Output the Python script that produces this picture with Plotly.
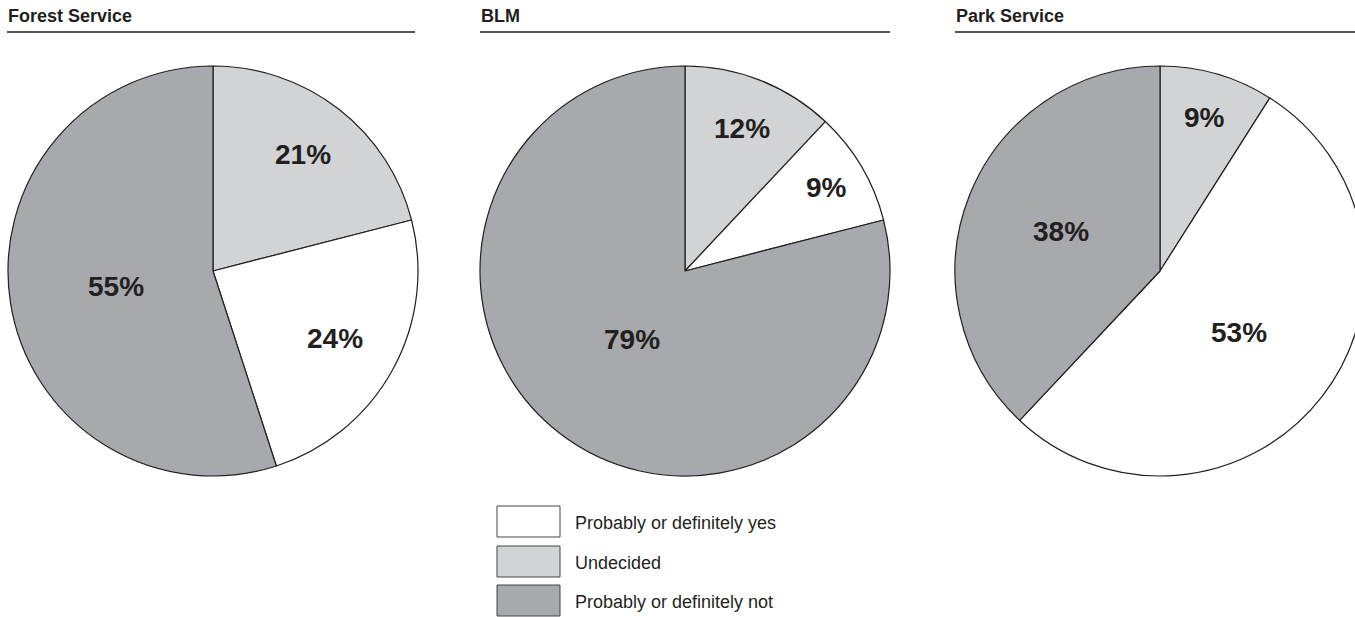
import math
import plotly.graph_objects as go

# ---- data ----
agencies = ["Forest Service", "BLM", "Park Service"]
categories = ["Undecided", "Probably or definitely yes", "Probably or definitely not"]
forest_values = [21, 24, 55]
blm_values = [12, 9, 79]
park_values = [9, 53, 38]
legend_order = ["Probably or definitely yes", "Undecided", "Probably or definitely not"]

# ---- style ----
colors = {
    "Undecided": "#d1d3d4",
    "Probably or definitely yes": "#ffffff",
    "Probably or definitely not": "#a7a9ac",
}
label_radius = [  # label distance from pie centre, as a fraction of radius
    [0.72, 0.68, 0.48],
    [0.75, 0.80, 0.42],
    [0.78, 0.49, 0.52],
]
TEXT = "#231f20"
FONT = "Liberation Sans, Arial, sans-serif"

W, H = 1365, 617
def px(x):
    return x / W
def py(y):
    return 1 - y / H

centers = [213, 685, 1160]
R = 205
CY = 271

fig = go.Figure()
annotations = []
for name, vals, cx, radii in zip(agencies, [forest_values, blm_values, park_values], centers, label_radius):
    fig.add_trace(go.Pie(
        labels=categories,
        values=vals,
        sort=False,
        direction="clockwise",
        rotation=0,
        marker=dict(colors=[colors[c] for c in categories], line=dict(color=TEXT, width=1.2)),
        textinfo="none",
        hoverinfo="label+percent",
        showlegend=False,
        domain=dict(x=[px(cx - R), min(1, px(cx + R))], y=[py(CY + R), py(CY - R)]),
        name=name,
    ))
    total = sum(vals)
    cum = 0
    for v, rf in zip(vals, radii):
        mid = (cum + v / 2) / total * 2 * math.pi
        cum += v
        lx = cx + rf * R * math.sin(mid)
        ly = CY - rf * R * math.cos(mid)
        annotations.append(dict(
            text="<b>%d%%</b>" % v, x=px(lx), y=py(ly), xref="paper", yref="paper",
            xanchor="center", yanchor="middle", showarrow=False,
            font=dict(family=FONT, size=28, color=TEXT),
        ))

shapes = []
panel_left = [7, 480, 955]
panel_right = [415, 890, 1355]
for name, l, r in zip(agencies, panel_left, panel_right):
    annotations.append(dict(
        text="<b>%s</b>" % name, x=px(l - 1), y=py(16), xref="paper", yref="paper",
        xanchor="left", yanchor="middle", showarrow=False,
        font=dict(family=FONT, size=18, color=TEXT),
    ))
    shapes.append(dict(type="line", xref="paper", yref="paper",
                       x0=px(l), x1=px(r), y0=py(32), y1=py(32),
                       line=dict(color="#555555", width=2)))

box_tops = [506, 546, 585]
for cat, top in zip(legend_order, box_tops):
    shapes.append(dict(type="rect", xref="paper", yref="paper",
                       x0=px(497), x1=px(560), y0=py(top + 31), y1=py(top),
                       fillcolor=colors[cat], line=dict(color="#444444", width=1)))
    annotations.append(dict(
        text=cat, x=px(573), y=py(top + 17), xref="paper", yref="paper",
        xanchor="left", yanchor="middle", showarrow=False,
        font=dict(family=FONT, size=18, color=TEXT),
    ))

fig.update_layout(
    width=W, height=H,
    margin=dict(l=0, r=0, t=0, b=0),
    paper_bgcolor="white", plot_bgcolor="white",
    shapes=shapes, annotations=annotations,
)

fig.write_html(
    "out.html",
    config={"displayModeBar": False},
    post_script="document.body.style.margin='0';document.body.style.overflow='hidden';document.documentElement.style.overflow='hidden';",
)
